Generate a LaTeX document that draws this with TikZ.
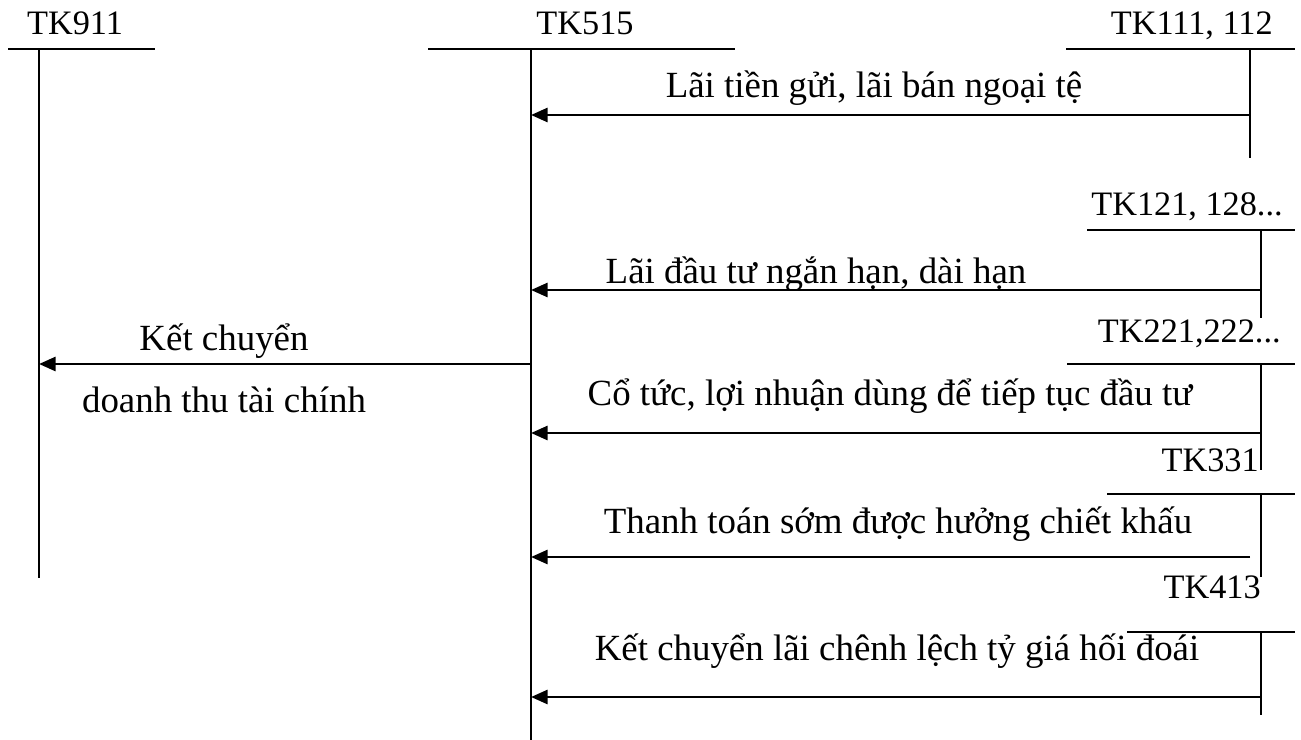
\documentclass[tikz,border=0pt]{standalone}
\usepackage{fontspec}
\setmainfont{Liberation Serif}
\usetikzlibrary{arrows.meta}

\tikzset{
  tline/.style={line width=1.6pt},
  thinline/.style={line width=0.9pt},
  entry/.style={-{Triangle[length=9.5pt,width=8pt]},line width=1.6pt},
  acct/.style={font=\fontsize{19.5}{23}\selectfont,inner sep=0pt,anchor=base},
  memo/.style={font=\fontsize{21}{25}\selectfont,inner sep=0pt,anchor=base}
}

\begin{document}
\begin{tikzpicture}[x=0.02cm,y=-0.02cm]
\useasboundingbox (0,0) rectangle (1301,740);

	\draw[tline] (8,49) -- (155,49) (39,49) coordinate(v911) -- (39,578);
	\draw[tline] (428,49) -- (735,49) (531,49) coordinate(v515) -- (531,740);
	\draw[tline] (1066,49) -- (1295,49) (1250,49) coordinate(v111) -- (1250,158);
	\draw[tline] (1087,230) -- (1295,230) (1261,230) coordinate(v121) -- (1261,318);
	\draw[tline] (1067,364) -- (1295,364) (1261,364) coordinate(v221) -- (1261,470);
	\draw[tline] (1107,494) -- (1295,494);
	\draw[thinline] (1261,494) coordinate(v331) -- (1261,577);
	\draw[tline] (1127,632) -- (1295,632) (1261,632) coordinate(v413) -- (1261,715);

	\node[acct] (n911) at (75,35) {TK911};
	\node[acct] (n515) at (585,35) {TK515};
	\node[acct,anchor=base east] (n111) at (1273,35) {TK111, 112};
	\node[acct,anchor=base east] (n121) at (1283,215) {TK121, 128...};
	\node[acct,anchor=base east] (n221) at (1281,342) {TK221,222...};
	\node[acct,anchor=base east] (n331) at (1259,471) {TK331};
	\node[acct,anchor=base east] (n413) at (1261,598) {TK413};

	% entries into TK515
	\coordinate (r1) at (1250,115);
	\coordinate (r2) at (1261,290);
	\coordinate (r3) at (1261,433);
	\coordinate (r4) at (1250,557);
	\coordinate (r5) at (1261,697);
	\draw[entry] (r1) -- (r1 -| v515);
	\draw[entry] (r2) -- (r2 -| v515);
	\draw[entry] (r3) -- (r3 -| v515);
	\draw[entry] (r4) -- (r4 -| v515);
	\draw[entry] (r5) -- (r5 -| v515);
	\coordinate (k) at (531,364);
	\draw[entry] (k) -- (k -| v911);

	\node[memo] (m1) at (874,97) {Lãi tiền gửi, lãi bán ngoại tệ};
	\node[memo] (m2) at (816,283) {Lãi đầu tư ngắn hạn, dài hạn};
	\node[memo] (m3) at (890,405) {Cổ tức, lợi nhuận dùng để tiếp tục đầu tư};
	\node[memo] (m4) at (898,533) {Thanh toán sớm được hưởng chiết khấu};
	\node[memo] (m5) at (897,660) {Kết chuyển lãi chênh lệch tỷ giá hối đoái};
	\node[memo] (k1) at (224,350) {Kết chuyển};
	\node[memo] (k2) at (224,412) {doanh thu tài chính};
\end{tikzpicture}
\end{document}
